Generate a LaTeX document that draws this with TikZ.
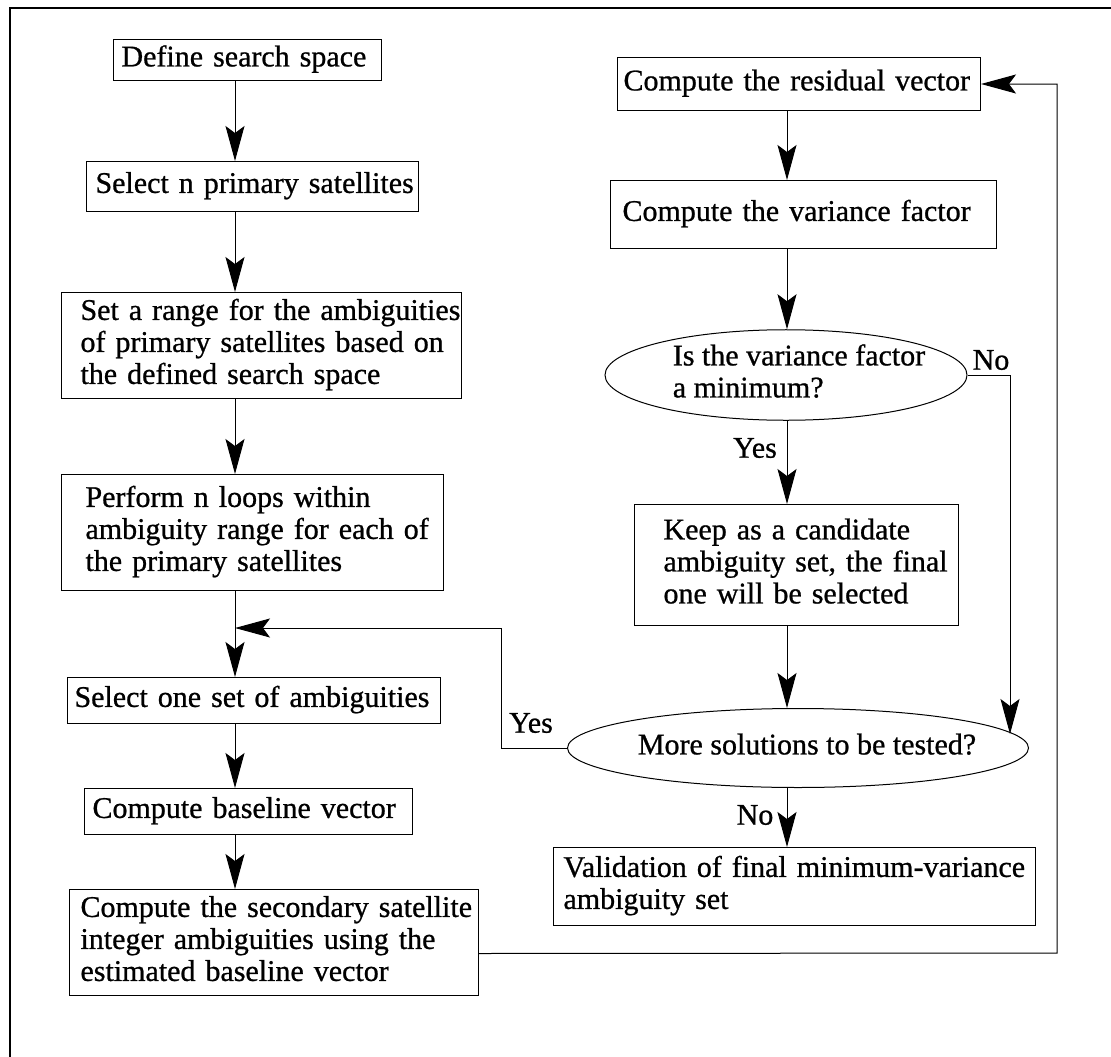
\documentclass[tikz,border=0pt]{standalone}
\usepackage{fontspec}
\setmainfont{Liberation Serif}[FakeBold=0.8]
\usetikzlibrary{arrows.meta,shapes.geometric}
\newcommand\boxlines[1]{\begin{tabular}{@{}l@{}}#1\end{tabular}}
\tikzset{
  barb/.tip={Stealth[length=35pt,width=19pt,inset=7pt]},
}
\begin{document}
\begin{tikzpicture}[x=1pt,y=-1pt,
  txt/.style={font=\fontsize{30}{32}\selectfont},
  stepbox/.style={txt, draw, line width=1pt, rectangle, anchor=north west,
    align=left, inner ysep=0pt},
  decision/.style={txt, draw, line width=1pt, ellipse, inner sep=0pt},
  lbl/.style={txt, inner sep=0pt},
  flow/.style={line width=1pt, arrows={-barb}},
  frame/.style={line width=2.5pt, line join=miter}]

\useasboundingbox (0,0) rectangle (1111,1057);
\fill[white] (0,0) rectangle (1111,1057);

% outer frame (left and top edges)
\draw[frame] (10,1070) -- (10,8) -- (1125,8);

% left column
\node[stepbox, minimum width=268pt, minimum height=41pt, text width=252pt, inner xsep=8pt]
  (b1) at (113,39) {\boxlines{Define search space}};
\node[stepbox, minimum width=332pt, minimum height=50pt, text width=314pt, inner xsep=9pt]
  (b2) at (86,161) {\boxlines{Select n primary satellites}};
\node[stepbox, minimum width=400pt, minimum height=106pt, text width=362pt, inner xsep=19pt]
  (b3) at (61,292) {\boxlines{Set a range for the ambiguities\\ of primary satellites based on\\ the defined search space}};
\node[stepbox, minimum width=382pt, minimum height=116pt, text width=334pt, inner xsep=24pt]
  (b4) at (61,474) {\boxlines{Perform n loops within\\ ambiguity range for each of\\ the primary satellites}};
\node[stepbox, minimum width=373pt, minimum height=46pt, text width=359pt, inner xsep=7pt]
  (b5) at (67,677) {\boxlines{Select one set of ambiguities}};
\node[stepbox, minimum width=328pt, minimum height=46pt, text width=312pt, inner xsep=8pt]
  (b6) at (84,788) {\boxlines{Compute baseline vector}};
\node[stepbox, minimum width=409pt, minimum height=106pt, text width=387pt, inner xsep=11pt]
  (b7) at (69,889) {\boxlines{Compute the secondary satellite\\ integer ambiguities using the\\ estimated baseline vector}};

% right column
\node[stepbox, minimum width=363pt, minimum height=53pt, text width=351pt, inner xsep=6pt]
  (res) at (617,57) {\boxlines{Compute the residual vector}};
\node[stepbox, minimum width=386pt, minimum height=68pt, text width=362pt, inner xsep=12pt]
  (var) at (610,180) {\boxlines{Compute the variance factor}};
\node[decision, minimum width=362pt, minimum height=85pt]
  (e1) at (786,375) {\makebox[0pt]{\hspace*{26pt}\boxlines{Is the variance factor\\ a minimum?}}};
\node[stepbox, minimum width=324pt, minimum height=121pt, text width=266pt, inner xsep=29pt]
  (keep) at (634,504) {\boxlines{Keep as a candidate\\ ambiguity set, the final\\ one will be selected}};
\node[decision, minimum width=461pt, minimum height=79pt]
  (e2) at (798,748) {\makebox[0pt]{\hspace*{18pt}\boxlines{More solutions to be tested?}}};
\node[stepbox, minimum width=482pt, minimum height=78pt, text width=462pt, inner xsep=10pt]
  (val) at (553,847) {\boxlines{Validation of final minimum-variance\\ ambiguity set}};

% branch labels
\node[lbl] (yes1) at (755,448) {Yes};
\node[lbl] (no1) at (991,360) {No};
\node[lbl] (yes2) at (531,723) {Yes};
\node[lbl] (no2) at (755,815) {No};

% guide coordinates for the connectors
\coordinate (colL) at (235,0);
\coordinate (colR) at (787,0);
\coordinate (merge) at (235,628);
\coordinate (yesturn) at (501,628);
\coordinate (loopbr) at (1057,953);
\coordinate (noturn) at (1010,375);
\coordinate (nohit) at (1010,734);

% left column flow
\draw[flow] (b1.south -| colL) -- (b2.north -| colL);
\draw[flow] (b2.south -| colL) -- (b3.north -| colL);
\draw[flow] (b3.south -| colL) -- (b4.north -| colL);
\draw[flow] (b4.south -| colL) -- (b5.north -| colL);
\draw[flow] (b5.south -| colL) -- (b6.north -| colL);
\draw[flow] (b6.south -| colL) -- (b7.north -| colL);

% loop back to the next set of ambiguities
\draw[flow] (e2.west) -| (yesturn) -- (merge);

% loop over to the residual computation
\draw[flow] ([yshift=-11pt]b7.east) -- (loopbr) |- (res.east);

% right column flow
\draw[flow] (res.south -| colR) -- (var.north -| colR);
\draw[flow] (var.south -| colR) -- (e1.north -| colR);
\draw[flow] (e1.south -| colR) -- (keep.north -| colR);
\draw[flow] (keep.south -| colR) -- (e2.north -| colR);
\draw[flow] (e2.south -| colR) -- (val.north -| colR);
\draw[flow] (e1.east) -- (noturn) -- (nohit);

\end{tikzpicture}
\end{document}
